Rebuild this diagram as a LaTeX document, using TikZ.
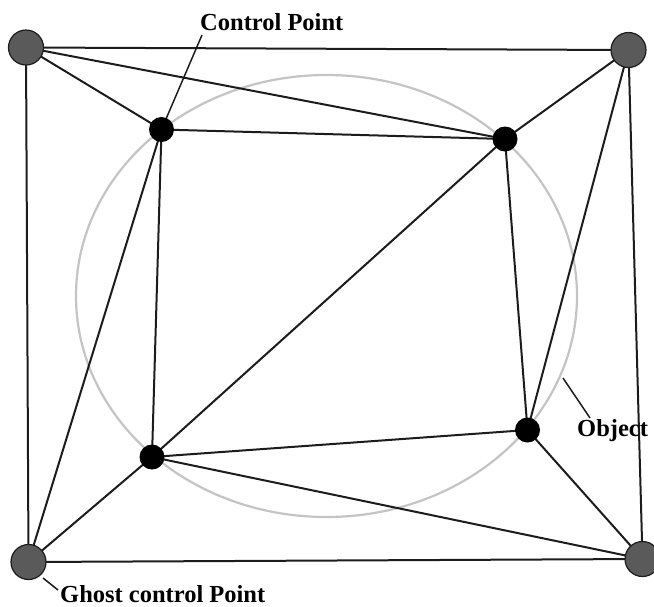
\documentclass[tikz,border=0pt]{standalone}
\usepackage{fontspec}
\setmainfont{Liberation Serif}
\usetikzlibrary{backgrounds}
\tikzset{
  ghostpt/.style={circle, fill=ghostgray, draw=edgedark, line width=1.2pt, minimum size=35pt, inner sep=0pt},
  ctrlpt/.style={circle, fill=black, minimum size=25pt, inner sep=0pt},
  mesh/.style={draw=edgedark, line width=2pt},
  leader/.style={draw=edgedark, line width=1.5pt},
  objline/.style={draw=objgray, line width=2.2pt},
  lbl/.style={font=\bfseries\fontsize{24.5}{26}\selectfont, anchor=base west, inner sep=0pt, text=black}
}
\definecolor{ghostgray}{HTML}{5A5A5A}
\definecolor{edgedark}{HTML}{1C1C1C}
\definecolor{objgray}{HTML}{C4C4C4}
\begin{document}
\begin{tikzpicture}[x=1pt, y=-1pt]
  \useasboundingbox (0,0) rectangle (654,606);

  % ghost control points (corners)
  \node[ghostpt] (tl) at (26,47.5) {};
  \node[ghostpt] (tr) at (628.5,50) {};
  \node[ghostpt] (bl) at (28.5,562) {};
  \node[ghostpt] (br) at (642.5,559) {};

  % control points on the object boundary
  \node[ctrlpt] (a) at (161.5,129.5) {};
  \node[ctrlpt] (b) at (505,139) {};
  \node[ctrlpt] (c) at (152,457) {};
  \node[ctrlpt] (d) at (527.5,430) {};

  % labels
  \node[lbl] (lcp) at (200,30) {Control Point};
  \node[lbl] (lobj) at (577,436) {Object};
  \node[lbl] (lgh) at (60,602) {Ghost control Point};

  \coordinate (cptail) at (202,35);
  \coordinate (objhead) at (563,378);
  \coordinate (objtail) at (590,418);
  \coordinate (ghhead) at (43,578);
  \coordinate (ghtail) at (58,590);

  \begin{scope}[on background layer]
    % the object outline
    \path[objline] (326.5,296) ellipse [x radius=250.5, y radius=221];

    % triangulated mesh
    \path[mesh] (tl.center) -- (tr.center) -- (br.center) -- (bl.center) -- cycle;
    \path[mesh] (tl.center) -- (a.center);
    \path[mesh] (tl.center) -- (b.center);
    \path[mesh] (tr.center) -- (b.center);
    \path[mesh] (tr.center) -- (d.center);
    \path[mesh] (a.center) -- (b.center);
    \path[mesh] (a.center) -- (c.center);
    \path[mesh] (a.center) -- (bl.center);
    \path[mesh] (b.center) -- (c.center);
    \path[mesh] (b.center) -- (d.center);
    \path[mesh] (c.center) -- (bl.center);
    \path[mesh] (c.center) -- (d.center);
    \path[mesh] (c.center) -- (br.center);
    \path[mesh] (d.center) -- (br.center);

    % label leaders
    \path[leader] (cptail) -- (a.center);
    \path[leader] (objhead) -- (objtail);
    \path[leader] (ghhead) -- (ghtail);
  \end{scope}
\end{tikzpicture}
\end{document}
